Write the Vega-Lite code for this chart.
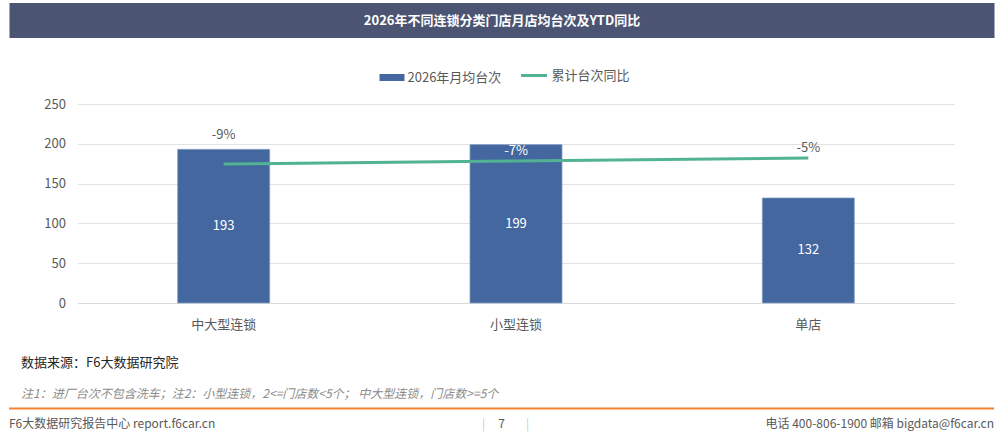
{
  "$schema": "https://vega.github.io/schema/vega-lite/v6.json",
  "background": "white",
  "padding": {"left": 8, "top": 3, "right": 0, "bottom": 0},
  "spacing": 20,
  "center": true,
  "resolve": {
    "scale": {"fill": "independent", "stroke": "independent"},
    "legend": {"fill": "independent", "stroke": "independent"}
  },
  "config": {
    "font": "Noto Sans CJK SC",
    "view": {"stroke": null},
    "locale": {"number": {"decimal": ".", "thousands": ",", "grouping": [3], "currency": ["", ""], "minus": "-"}}
  },
  "datasets": {
    "main": [
      {"cat": "中大型连锁", "v": 193, "yoy": -0.09},
      {"cat": "小型连锁", "v": 199, "yoy": -0.07},
      {"cat": "单店", "v": 132, "yoy": -0.05}
    ],
    "foot": [
      {"line": "source", "side": "left", "part": "text", "text": "数据来源：F6大数据研究院"},
      {"line": "note", "side": "left", "part": "text", "text": "注1：进厂台次不包含洗车；注2：小型连锁，2<=门店数<5个； 中大型连锁，门店数>=5个"},
      {"line": "footer", "side": "left", "part": "text", "text": "F6大数据研究报告中心 report.f6car.cn"},
      {"line": "footer", "side": "center", "part": "text", "text": "7"},
      {"line": "footer", "side": "center", "part": "sepL", "text": "|"},
      {"line": "footer", "side": "center", "part": "sepR", "text": "|"},
      {"line": "footer", "side": "right", "part": "text", "text": "电话 400-806-1900 邮箱 bigdata@f6car.cn"}
    ]
  },
  "vconcat": [
    {
      "width": 985,
      "height": 35,
      "view": {"fill": "#4b5472", "stroke": null},
      "data": {"values": [{"title": "2026年不同连锁分类门店月店均台次及YTD同比"}]},
      "mark": {"type": "text", "color": "white", "fontSize": 13, "fontWeight": "bold"},
      "encoding": {"text": {"field": "title"}}
    },
    {
      "width": 905,
      "height": 199,
      "data": {"name": "main"},
      "encoding": {
        "x": {
          "field": "cat",
          "type": "nominal",
          "sort": null,
          "scale": {"type": "band", "paddingInner": 0.685, "paddingOuter": 0.3425, "range": [28, 905]},
          "axis": {
            "title": null,
            "labelAngle": 0,
            "labelFontSize": 13,
            "labelColor": "#595959",
            "labelPadding": 15,
            "ticks": false,
            "domainColor": "#d9d9d9"
          }
        }
      },
      "resolve": {"scale": {"y": "independent"}},
      "layer": [
        {
          "mark": {"type": "bar", "stroke": "#8aa3cc", "strokeWidth": 0.7},
          "encoding": {
            "y": {
              "field": "v",
              "type": "quantitative",
              "scale": {"domain": [0, 250]},
              "axis": {
                "title": null,
                "values": [0, 50, 100, 150, 200, 250],
                "offset": -28,
                "labelFontSize": 13,
                "labelColor": "#595959",
                "labelPadding": 12,
                "ticks": false,
                "domain": false,
                "gridColor": "#e3e3e3"
              }
            },
            "fill": {
              "datum": "2026年月均台次",
              "type": "nominal",
              "scale": {"range": ["#44679f"]},
              "legend": {
                "title": null,
                "orient": "none",
                "legendX": 323,
                "legendY": -46,
                "padding": 7,
                "labelFontSize": 13,
                "labelColor": "#595959",
                "labelOffset": 3,
                "symbolType": "M-1,-0.28L1,-0.28L1,0.28L-1,0.28Z",
                "symbolSize": 625,
                "symbolStrokeWidth": 0,
                "symbolOpacity": 1
              }
            }
          }
        },
        {
          "mark": {"type": "text", "color": "white", "fontSize": 13},
          "encoding": {
            "y": {"field": "v", "type": "quantitative", "scale": {"domain": [0, 500]}, "axis": null},
            "text": {"field": "v", "type": "quantitative"}
          }
        },
        {
          "encoding": {
            "y": {"field": "yoy", "type": "quantitative", "scale": {"domain": [-1.0167, 0.31]}, "axis": null}
          },
          "layer": [
            {
              "mark": {"type": "line", "strokeWidth": 3},
              "encoding": {
                "stroke": {
                  "datum": "累计台次同比",
                  "type": "nominal",
                  "scale": {"range": ["#52b393"]},
                  "legend": {
                    "title": null,
                    "orient": "none",
                    "legendX": 467,
                    "legendY": -46,
                    "padding": 3,
                    "labelFontSize": 13,
                    "labelColor": "#595959",
                    "labelOffset": 3,
                    "symbolType": "stroke",
                    "symbolSize": 676,
                    "symbolStrokeWidth": 3,
                    "symbolOpacity": 1
                  }
                }
              }
            },
            {
              "transform": [{"filter": "datum.cat === '中大型连锁'"}],
              "mark": {"type": "text", "fontSize": 13, "dy": -29},
              "encoding": {
                "text": {"field": "yoy", "type": "quantitative", "format": ".0%"},
                "color": {"value": "#595959"}
              }
            },
            {
              "transform": [{"filter": "datum.cat !== '中大型连锁'"}],
              "mark": {"type": "text", "fontSize": 13, "dy": -10},
              "encoding": {
                "text": {"field": "yoy", "type": "quantitative", "format": ".0%"},
                "color": {"condition": {"test": "datum.cat === '小型连锁'", "value": "white"}, "value": "#595959"}
              }
            }
          ]
        }
      ]
    },
    {
      "width": 985,
      "height": 85,
      "encoding": {
        "x": {
          "field": "side",
          "type": "nominal",
          "scale": {"type": "point", "domain": ["left", "center", "right"], "padding": 0},
          "axis": null
        },
        "y": {
          "field": "line",
          "type": "nominal",
          "scale": {"type": "point", "domain": ["source", "gap", "note", "rule", "footer"], "padding": 0.833},
          "axis": null
        }
      },
      "layer": [
        {
          "data": {"name": "foot"},
          "transform": [{"filter": "datum.line === 'source'"}],
          "mark": {"type": "text", "align": "left", "dx": 12, "fontSize": 13, "color": "#262626"},
          "encoding": {"text": {"field": "text"}}
        },
        {
          "data": {"name": "foot"},
          "transform": [{"filter": "datum.line === 'note'"}],
          "mark": {"type": "text", "align": "left", "dx": 12, "fontSize": 12, "fontStyle": "italic", "color": "#8c8c8c"},
          "encoding": {"text": {"field": "text"}}
        },
        {
          "data": {"values": [{"line": "rule"}]},
          "mark": {"type": "rule", "color": "#f4812f", "strokeWidth": 2},
          "encoding": {"x": null}
        },
        {
          "data": {"name": "foot"},
          "transform": [{"filter": "datum.line === 'footer' && datum.side === 'left'"}],
          "mark": {"type": "text", "align": "left", "fontSize": 12, "color": "#595959"},
          "encoding": {"text": {"field": "text"}}
        },
        {
          "data": {"name": "foot"},
          "transform": [{"filter": "datum.side === 'center' && datum.part === 'text'"}],
          "mark": {"type": "text", "align": "center", "fontSize": 12, "color": "#595959"},
          "encoding": {"text": {"field": "text"}}
        },
        {
          "data": {"name": "foot"},
          "transform": [{"filter": "datum.part === 'sepL'"}],
          "mark": {"type": "text", "align": "center", "dx": -18, "fontSize": 12, "color": "#c8c8c8"},
          "encoding": {"text": {"field": "text"}}
        },
        {
          "data": {"name": "foot"},
          "transform": [{"filter": "datum.part === 'sepR'"}],
          "mark": {"type": "text", "align": "center", "dx": 26, "fontSize": 12, "color": "#c8c8c8"},
          "encoding": {"text": {"field": "text"}}
        },
        {
          "data": {"name": "foot"},
          "transform": [{"filter": "datum.line === 'footer' && datum.side === 'right'"}],
          "mark": {"type": "text", "align": "right", "fontSize": 12, "color": "#595959"},
          "encoding": {"text": {"field": "text"}}
        }
      ]
    }
  ]
}
